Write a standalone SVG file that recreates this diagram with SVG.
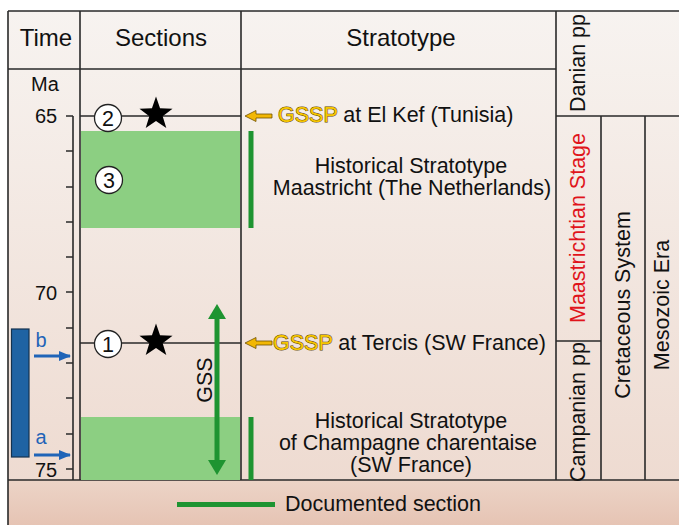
<svg xmlns="http://www.w3.org/2000/svg" width="679" height="525" viewBox="0 0 679 525">
<defs>
<linearGradient id="bg" x1="0" y1="0" x2="0" y2="1">
<stop offset="0" stop-color="#f7f3f0"/>
<stop offset="1" stop-color="#eedbd1"/>
</linearGradient>
<linearGradient id="bot" x1="0" y1="0" x2="0" y2="1">
<stop offset="0" stop-color="#ecd4c7"/>
<stop offset="1" stop-color="#e6c4b4"/>
</linearGradient>
<marker id="gh" viewBox="0 0 15 18" refX="9" refY="9" markerWidth="15" markerHeight="18" orient="auto-start-reverse" markerUnits="userSpaceOnUse">
<path d="M0,0 L15,9 L0,18 z" fill="#1e9431"/>
</marker>
<marker id="bh" viewBox="0 0 12 10" refX="11" refY="5" markerWidth="12" markerHeight="10" orient="auto" markerUnits="userSpaceOnUse">
<path d="M0,0 L12,5 L0,10 z" fill="#1f64b8"/>
</marker>
<path id="star" d="M0,-12 L2.8,-3.9 L11.4,-3.7 L4.6,1.5 L7.1,9.7 L0,4.8 L-7.1,9.7 L-4.6,1.5 L-11.4,-3.7 L-2.8,-3.9 z" fill="#000"/>
<path id="yarrow" d="M0,0 L11,-5.5 L11,-2 L27,-2 L27,2 L11,2 L11,5.5 z" fill="#f2b705" stroke="#6e5000" stroke-width="0.8"/>
</defs>
<style>
text{font-family:"Liberation Sans",Arial,sans-serif;fill:#111}
.h{font-size:24px;text-anchor:middle}
.t{font-size:21.5px}
.n{font-size:20px;text-anchor:middle}
.c{text-anchor:middle}
.ln{stroke:#2a2a2a;stroke-width:1.6;fill:none}
.gr{fill:#8ccf82}
.gb{fill:#1e9431}
.gssp{fill:#f7c600;stroke:#5a4300;stroke-width:1;paint-order:stroke}
.num{fill:#fff;stroke:#222;stroke-width:1.3}
</style>
<rect x="0" y="0" width="679" height="525" fill="#fff"/>
<rect x="8" y="11" width="671" height="469" fill="url(#bg)"/>
<rect x="8" y="480" width="671" height="45" fill="url(#bot)"/>

<g id="grid">
<path class="ln" d="M8,11 H679 M8,11 V525 M8,480 H679 M8,69 H556 M80,11 V480 M241,11 V480 M556,11 V480 M556,116 H679 M601,116 V480 M645,116 V480 M556,341 H601"/>
</g>

<g id="headers">
<text class="h" x="46" y="46">Time</text>
<text class="h" x="161" y="46">Sections</text>
<text class="h" x="401" y="46">Stratotype</text>
</g>

<g id="time-axis">
<path class="ln" d="M73,116 V480 M66,116 H73 M66,151 H73 M66,187 H73 M66,222 H73 M66,257 H73 M66,292 H73 M66,328 H73 M66,363 H73 M66,398 H73 M66,434 H73 M66,469 H73"/>
<text class="n" x="45" y="91">Ma</text>
<text class="n" x="46" y="123">65</text>
<text class="n" x="46" y="300">70</text>
<text class="n" x="46" y="477">75</text>
</g>

<g id="core">
<rect x="11.5" y="329" width="17.5" height="128" fill="#1f63a3" stroke="#14324f" stroke-width="1.2"/>
<line x1="34" y1="356" x2="70" y2="356" stroke="#1f64b8" stroke-width="3" marker-end="url(#bh)"/>
<line x1="34" y1="455" x2="70" y2="455" stroke="#1f64b8" stroke-width="3" marker-end="url(#bh)"/>
<text class="n" x="41" y="347" style="fill:#1f64b8">b</text>
<text class="n" x="41" y="444" style="fill:#1f64b8">a</text>
</g>

<g id="sections">
<rect class="gr" x="81" y="131" width="159" height="97"/>
<rect class="gr" x="81" y="417" width="159" height="63"/>
<path class="ln" d="M80,116 H241 M80,343 H241"/>
</g>

<g id="node-2">
<circle class="num" cx="108" cy="118" r="13.5"/>
<text class="t c" x="108" y="126">2</text>
<use href="#star" transform="translate(156,114) scale(1.45)"/>
</g>
<g id="node-3">
<circle class="num" cx="109" cy="180" r="13.5"/>
<text class="t c" x="109" y="188">3</text>
</g>
<g id="node-1">
<circle class="num" cx="108" cy="344" r="13.5"/>
<text class="t c" x="108" y="352">1</text>
<use href="#star" transform="translate(156,341) scale(1.45)"/>
</g>

<g id="connectors">
<line x1="217" y1="310" x2="217" y2="469" stroke="#1e9431" stroke-width="5" marker-start="url(#gh)" marker-end="url(#gh)"/>
<use href="#yarrow" transform="translate(245,116)"/>
<use href="#yarrow" transform="translate(245,343)"/>
</g>
<text class="t c" x="212" y="380" transform="rotate(-90 212 380)">GSS</text>

<g id="stratotype">
<rect class="gb" x="248.5" y="131" width="5" height="97"/>
<rect class="gb" x="248.5" y="417" width="5" height="63"/>
<text class="t" x="278" y="122"><tspan class="gssp">GSSP</tspan> at El Kef (Tunisia)</text>
<text class="t c" x="411" y="173">Historical Stratotype</text>
<text class="t c" x="412" y="195">Maastricht (The Netherlands)</text>
<text class="t" x="273" y="350"><tspan class="gssp">GSSP</tspan> at Tercis (SW France)</text>
<text class="t c" x="411" y="428">Historical Stratotype</text>
<text class="t c" x="408" y="450">of Champagne charentaise</text>
<text class="t c" x="411" y="472">(SW France)</text>
</g>

<g id="chrono">
<text class="t c" x="585" y="63" transform="rotate(-90 585 63)">Danian pp</text>
<text class="t c" x="585" y="228" transform="rotate(-90 585 228)" style="fill:#e0141b">Maastrichtian Stage</text>
<text class="t c" x="585" y="412" transform="rotate(-90 585 412)">Campanian pp</text>
<text class="t c" x="630" y="305" transform="rotate(-90 630 305)">Cretaceous System</text>
<text class="t c" x="669" y="305" transform="rotate(-90 669 305)">Mesozoic Era</text>
</g>

<g id="legend">
<rect class="gb" x="177" y="502" width="98" height="5"/>
<text class="t" x="285" y="511">Documented section</text>
</g>
</svg>
